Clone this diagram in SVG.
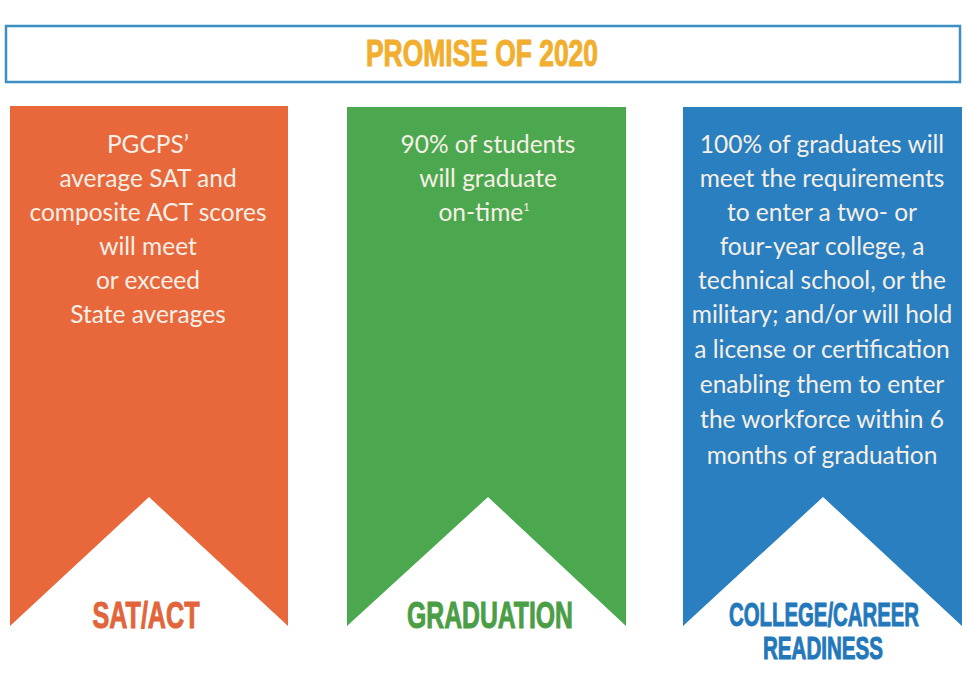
<svg xmlns="http://www.w3.org/2000/svg" width="966" height="679" viewBox="0 0 966 679">
<style>
.body{font-family:"Lato","Open Sans",sans-serif;font-size:24.5px;fill:#f6efe6;text-anchor:middle}
.head{font-family:"Liberation Sans",Arial,sans-serif;font-weight:bold;text-anchor:middle;stroke-width:1}
</style>
<rect width="966" height="679" fill="#ffffff"/>
<g id="title">
<rect x="6" y="26" width="954" height="56" fill="#ffffff" stroke="#3d8fc2" stroke-width="2.5"/>
<text class="head" x="482" y="66" font-size="36" fill="#f2ae2e" stroke="#f2ae2e" textLength="232" lengthAdjust="spacingAndGlyphs">PROMISE OF 2020</text>
</g>
<g id="sat">
<polygon points="10,106 288,106 288,626 149,497 10,626" fill="#e8673b"/>
<text class="body"><tspan x="148" y="153">PGCPS’</tspan><tspan x="148" y="187">average SAT and</tspan><tspan x="148" y="221">composite ACT scores</tspan><tspan x="148" y="255">will meet</tspan><tspan x="148" y="289">or exceed</tspan><tspan x="148" y="323">State averages</tspan></text>
<text class="head" x="146" y="628" font-size="36" fill="#e2643a" stroke="#e2643a" textLength="107" lengthAdjust="spacingAndGlyphs">SAT/ACT</text>
</g>
<g id="graduation">
<polygon points="347,107 626,107 626,626 488,497 347,626" fill="#4ca84e"/>
<text class="body"><tspan x="488" y="153">90% of students</tspan><tspan x="488" y="187">will graduate</tspan><tspan x="484" y="221">on-time<tspan font-size="11" dy="-10">1</tspan></tspan></text>
<text class="head" x="490" y="628" font-size="36" fill="#4b9e46" stroke="#4b9e46" textLength="166" lengthAdjust="spacingAndGlyphs">GRADUATION</text>
</g>
<g id="college">
<polygon points="683,107 962,107 962,626 823,497 683,626" fill="#2a7fc1"/>
<text class="body"><tspan x="822" y="153">100% of graduates will</tspan><tspan x="822" y="187">meet the requirements</tspan><tspan x="822" y="221">to enter a two- or</tspan><tspan x="822" y="255">four-year college, a</tspan><tspan x="822" y="289">technical school, or the</tspan><tspan x="822" y="323">military; and/or will hold</tspan><tspan x="822" y="358">a license or certification</tspan><tspan x="822" y="393">enabling them to enter</tspan><tspan x="822" y="428">the workforce within 6</tspan><tspan x="822" y="464">months of graduation</tspan></text>
<text class="head" x="824" y="626" font-size="33" fill="#2378bc" stroke="#2378bc" textLength="190" lengthAdjust="spacingAndGlyphs">COLLEGE/CAREER</text>
<text class="head" x="823" y="659" font-size="31" fill="#2378bc" stroke="#2378bc" textLength="120" lengthAdjust="spacingAndGlyphs">READINESS</text>
</g>
<g id="connectors"></g>
</svg>
